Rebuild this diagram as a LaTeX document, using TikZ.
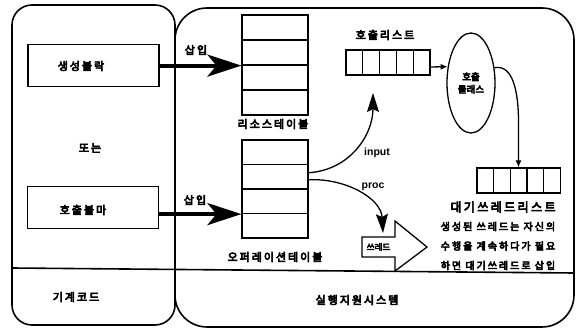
\documentclass[tikz,border=0pt]{standalone}
\usepackage{fontspec}
\newfontfamily\kr{Noto Sans CJK KR}[LetterSpace=18, FakeBold=6]
\newfontfamily\krw{Noto Sans CJK KR}[LetterSpace=20, FakeBold=6]
\newfontfamily\krp{Noto Sans CJK KR}[LetterSpace=20, FakeBold=6]
\newfontfamily\krn{Noto Sans CJK KR}[FakeBold=6]
\newfontfamily\lat{Liberation Sans}
\usetikzlibrary{arrows.meta,shapes.geometric}

\tikzset{
  panel/.style={draw, line width=1.6pt},
  blk/.style={draw, line width=1.3pt, minimum width=131pt, minimum height=42pt, inner sep=0pt},
  trow/.style={draw, line width=1.2pt, minimum width=66pt, minimum height=25pt, inner sep=0pt},
  cell/.style={draw, line width=1.2pt, minimum width=16.8pt, minimum height=25pt, inner sep=0pt},
  lbl/.style={font=\kr\fontsize{11}{13}\selectfont, inner sep=0pt},
  widelbl/.style={font=\krw\fontsize{12}{14}\selectfont, inner sep=0pt},
  para/.style={font=\krp\fontsize{10}{19.5}\selectfont, inner sep=0pt, align=center},
  eng/.style={font=\lat\bfseries\fontsize{10.5}{12}\selectfont, inner sep=0pt},
  bigarrow/.style={line width=4pt, -{Stealth[length=34pt,width=22pt,inset=9pt]}},
  curvearrow/.style={line width=1.3pt, -{Stealth[length=19pt,width=12pt,inset=3pt]}},
  smallarrow/.style={line width=1.3pt, -{Latex[length=7pt,width=6pt]}},
}

\begin{document}
\begin{tikzpicture}[x=1pt,y=-1pt]
\useasboundingbox (0,0) rectangle (582,331);

% the two panels
\draw[panel, rounded corners=20pt] (12,5) rectangle (175,325);
\draw[panel, rounded corners=32pt] (175,8) rectangle (574,327);
\draw[panel] (12,268) -- (574,273);

% blocks on the left
\node[blk] (gen) at (93.5,65.5) {};
\node[lbl] (gent) at (81,66) {생성블락};
\node[blk] (cb) at (93,207.5) {};
\node[lbl] (cbt) at (83,210) {호출블마};
\node[lbl] (or) at (90,148) {또는};
\node[lbl] (mc) at (76,297) {기계코드};
\node[lbl] (rts) at (357,300) {실행지원시스템};

% resource table
\foreach \i in {1,...,4}
  \node[trow] (rt\i) at (275,2.5+25*\i) {};
\node[lbl] (rtl) at (273,124) {리소스테이블};

% operation table
\foreach \i in {1,...,4}
  \node[trow, minimum height=24.5pt] (ot\i) at (275,140+24.5*\i-12.25) {};
\node[lbl] (otl) at (275,257) {오퍼레이션테이블};

% insertion arrows
\draw[bigarrow] (gen.east |- rt2.south west) -- (rt2.south west);
\node[lbl] (ins1) at (196,50) {삽입};
\draw[bigarrow] (cb.east |- ot3.south west) -- (ot3.south west);
\node[lbl] (ins2) at (195,200) {삽입};

% call list
\foreach \i in {0,...,4}
  \node[cell] (cl\i) at (354.4+16.8*\i,62.5) {};
\node[lbl] (cll) at (385,35) {호출리스트};

% call class
\node[draw, ellipse, line width=1.3pt, minimum width=48pt, minimum height=100pt,
      inner sep=0pt, align=center, font=\krn\fontsize{9.5}{12.5}\selectfont]
      (cls) at (471,83) {호출\\클래스};
\draw[smallarrow] ([yshift=-4.5pt]cl4.east) -- (cls.145);

% waiting thread list
\foreach \i in {0,...,4}
  \node[cell] (wl\i) at (485.3+16.6*\i,180.5) {};
\node[widelbl] (wll) at (503,207) {대기쓰레드리스트};
\draw[smallarrow] (cls.33) .. controls (513,64) and (518.5,92) .. (518.5,122) -- (wl2.north);

% input / proc connectors
\coordinate (intip) at (373,93);
\draw[curvearrow] ([yshift=4pt]ot2.east) .. controls (350,170) and (373,135) .. (intip);
\node[eng] (inl) at (377,153) {input};

% thread block arrow
\coordinate (thr) at (378.5,247);
\draw[line width=1.3pt, fill=white] (362,237) -- (395,237)
  -- (395,221) -- (427,247) -- (395,271) -- (395,257) -- (362,257) -- cycle;
\node[inner sep=0pt, font=\krn\fontsize{8.5}{10}\selectfont] (thrt) at (thr) {쓰레드};

\draw[curvearrow] ([yshift=-3pt]ot2.east) .. controls (345,178) and (381,198) .. ([xshift=4.5pt,yshift=14pt]thr);
\node[eng] (prl) at (373,187) {proc};

% explanation
\node[para] (expl) at (498,246) {생성된 쓰레드는 자신의\\수행을 계속하다가 필요\\하면 대기쓰레드로 삽입};
\end{tikzpicture}
\end{document}
